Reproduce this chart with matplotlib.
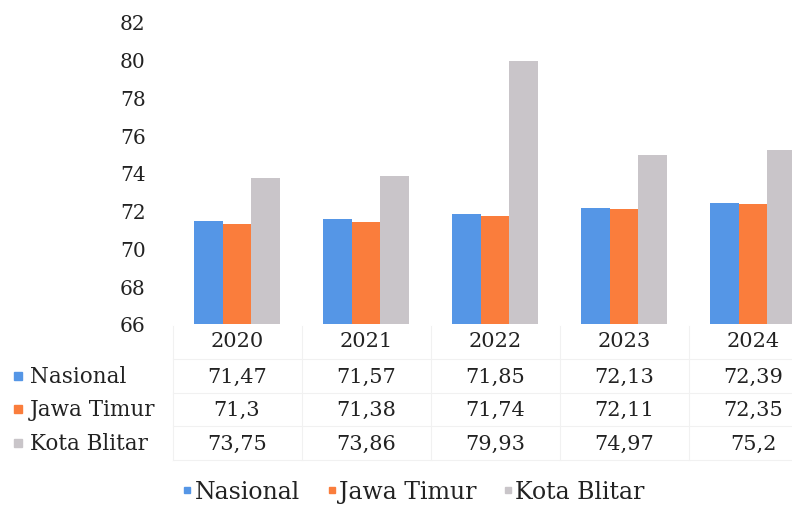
import matplotlib
matplotlib.use("Agg")
import matplotlib.pyplot as plt
import matplotlib.transforms as mtransforms
from matplotlib.lines import Line2D
import numpy as np

years = ["2020", "2021", "2022", "2023", "2024"]
series_names = ["Nasional", "Jawa Timur", "Kota Blitar"]
nasional = [71.47, 71.57, 71.85, 72.13, 72.39]
jawa_timur = [71.30, 71.38, 71.74, 72.11, 72.35]
kota_blitar = [73.75, 73.86, 79.93, 74.97, 75.20]
table_text = [
    ["71,47", "71,57", "71,85", "72,13", "72,39"],
    ["71,3", "71,38", "71,74", "72,11", "72,35"],
    ["73,75", "73,86", "79,93", "74,97", "75,2"],
]
yticks = [66, 68, 70, 72, 74, 76, 78, 80, 82]
colors = ["#5596E6", "#FA7D3C", "#C9C5C9"]

plt.rcParams["font.family"] = ["DejaVu Serif"]
W, H = 792, 506
fig = plt.figure(figsize=(W / 100, H / 100), dpi=100)
ax = fig.add_axes([172 / W, (H - 325) / H, (792 - 172) / W, (325 - 23) / H])

x = np.arange(len(years))
bw = 0.222
for i, vals in enumerate([nasional, jawa_timur, kota_blitar]):
    ax.bar(x + (i - 1) * bw, np.array(vals) - 66, bottom=66, width=bw,
           color=colors[i], edgecolor="none")

ax.set_ylim(66, 82)
ax.set_xlim(-0.504, 4.302)
ax.set_yticks(yticks)
ax.set_yticklabels([str(t) for t in yticks], fontsize=14.5, color="#222222")
ax.tick_params(axis="y", length=0, pad=19)
ax.set_xticks([])
for s in ax.spines.values():
    s.set_visible(False)

# data table below the plot
blend = mtransforms.blended_transform_factory(ax.transData, fig.transFigure)
row_y = [342, 377, 410, 444]
fs = 15
for j, yr in enumerate(years):
    fig.text(j, (H - row_y[0]) / H, yr, transform=blend, ha="center", va="center",
             fontsize=fs, color="#222222")
    for r in range(3):
        fig.text(j, (H - row_y[r + 1]) / H, table_text[r][j], transform=blend,
                 ha="center", va="center", fontsize=fs, color="#222222")

# faint grid lines of the table
grid_c = "#f1f1f1"
for j in range(len(years) + 1):
    xs = j - 0.5
    ax.plot([xs, xs], [(H - 327) / H, (H - 461) / H], transform=blend, color=grid_c,
            lw=0.8, clip_on=False)
for yy in [360, 394, 427, 461]:
    ax.plot([-0.5, 4.302], [(H - yy) / H] * 2, transform=blend, color=grid_c,
            lw=0.8, clip_on=False)

for r, name in enumerate(series_names):
    yy = (H - row_y[r + 1]) / H
    fig.add_artist(Line2D([18 / W], [yy], marker="s", markersize=5.5,
                          color=colors[r], linestyle="none"))
    fig.text(30 / W, yy, name, ha="left", va="center", fontsize=15.5, color="#222222")

handles = [Line2D([0], [0], marker="s", markersize=5, color=c, linestyle="none")
           for c in colors]
fig.legend(handles, series_names, loc="center", bbox_to_anchor=(413 / W, (H - 493) / H),
           ncol=3, frameon=False, fontsize=17, handletextpad=0.05, columnspacing=1.1,
           handlelength=0.5, labelcolor="#222222")

fig.savefig("out.png", dpi=100)
